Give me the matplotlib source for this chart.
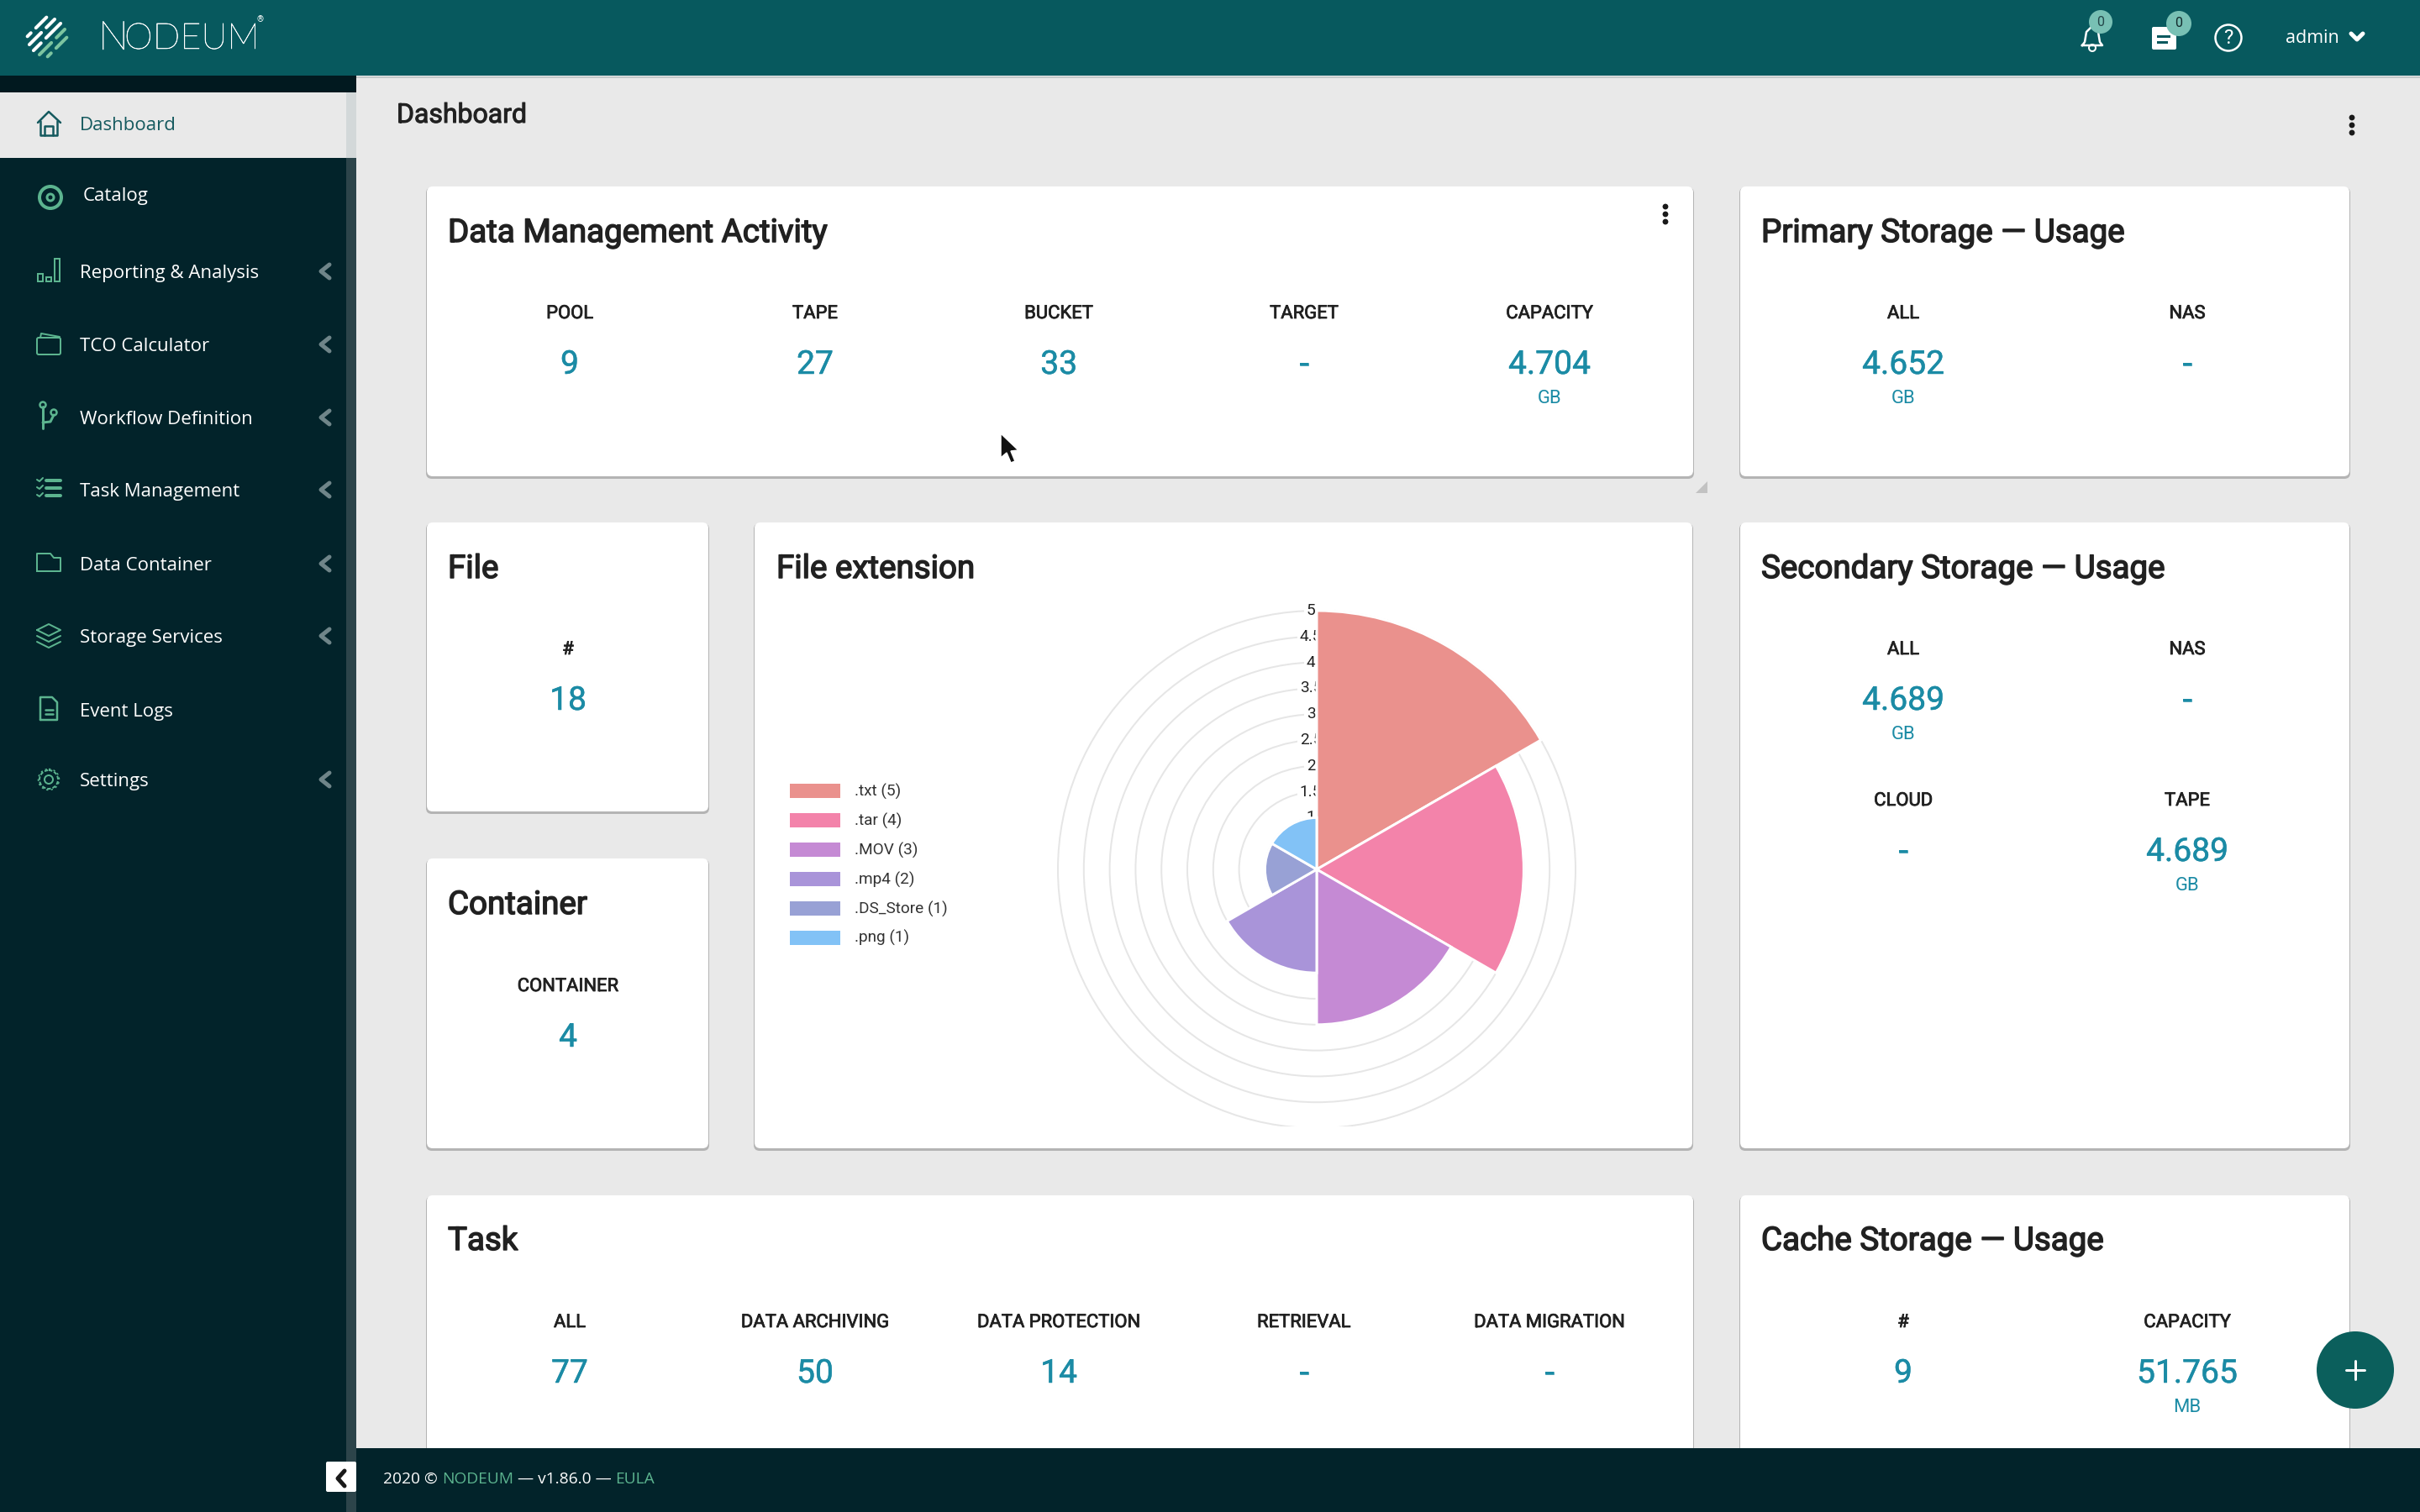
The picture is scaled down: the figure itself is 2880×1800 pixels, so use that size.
import numpy as np
import matplotlib
matplotlib.use("Agg")
import matplotlib.pyplot as plt
import matplotlib.patheffects as pe
from matplotlib.patches import Rectangle, FancyBboxPatch, Circle, Polygon

# file extension chart
ext_names = [".txt", ".tar", ".MOV", ".mp4", ".DS_Store", ".png"]
ext_counts = [5, 4, 3, 2, 1, 1]
ext_colors = ["#EA918D", "#F383AA", "#C58AD4", "#A994D9", "#98A1D5", "#82C2F6"]
ring_ticks = [0.5, 1, 1.5, 2, 2.5, 3, 3.5, 4, 4.5, 5]
ring_labels = ["0.5", "1", "1.5", "2", "2.5", "3", "3.5", "4", "4.5", "5"]

# cards
activity_labels = ["POOL", "TAPE", "BUCKET", "TARGET", "CAPACITY"]
activity_values = ["9", "27", "33", "-", "4.704"]
activity_units = ["", "", "", "", "GB"]
primary_labels = ["ALL", "NAS"]
primary_values = ["4.652", "-"]
primary_units = ["GB", ""]
secondary_labels = ["ALL", "NAS", "CLOUD", "TAPE"]
secondary_values = ["4.689", "-", "-", "4.689"]
secondary_units = ["GB", "", "", "GB"]
task_labels = ["ALL", "DATA ARCHIVING", "DATA PROTECTION", "RETRIEVAL", "DATA MIGRATION"]
task_values = ["77", "50", "14", "-", "-"]
cache_labels = ["#", "CAPACITY"]
cache_values = ["9", "51.765"]
cache_units = ["", "MB"]

menu_items = ["Dashboard", "Catalog", "Reporting & Analysis", "TCO Calculator", "Workflow Definition",
              "Task Management", "Data Container", "Storage Services", "Event Logs", "Settings"]
menu_arrows = [False, False, True, True, True, True, True, True, False, True]

W, H = 2880, 1800
DARK = "#02232A"
TEAL = "#07595E"
GREEN = "#5CB48F"
VALUE = "#1B8BA5"
INK = "#212121"


def fs(px):
    return px * 72 / 200


def lw(px):
    return px * 72 / 200


fig = plt.figure(figsize=(14.4, 9), dpi=200, facecolor="#E9E9E9")
ui = fig.add_axes([0, 0, 1, 1])
ui.set_xlim(0, W)
ui.set_ylim(H, 0)
ui.axis("off")


def txt(x, y, s, size, color=INK, ha="left", family="Roboto", weight="normal", z=5, stroke=0):
    t = ui.text(x, y + 2.5, s, fontsize=fs(size), color=color, ha=ha, va="center", family=family, weight=weight, zorder=z)
    if stroke:
        t.set_path_effects([pe.withStroke(linewidth=lw(stroke), foreground=color)])
    return t


def line(xs, ys, color=GREEN, width=3, z=5):
    ui.plot(xs, ys, color=color, lw=lw(width), solid_capstyle="round", solid_joinstyle="round", zorder=z)


def card(x0, y0, x1, y1):
    ui.add_patch(FancyBboxPatch((x0 - 1, y0 + 1), x1 - x0 + 2, y1 - y0 + 2, boxstyle="round,pad=0,rounding_size=7",
                                fc="#B4B4B4", ec="none", zorder=1))
    ui.add_patch(FancyBboxPatch((x0, y0), x1 - x0, y1 - y0, boxstyle="round,pad=0,rounding_size=7",
                                fc="white", ec="none", zorder=2))


def stats(xs, y, labels, values, units=None):
    for i, x in enumerate(xs):
        txt(x, y, labels[i], 22, ha="center", stroke=0.8)
        txt(x, y + 61, values[i], 39, color=VALUE, ha="center", stroke=0.5)
        if units and units[i]:
            txt(x, y + 101, units[i], 22, color=VALUE, ha="center")


def dots(x, y):
    for dy in (-9, 0, 9):
        ui.add_patch(Circle((x, y + dy), 3.4, fc="#1A1A1A", ec="none", zorder=5))


def chevron(x, y, color="#6F8589"):
    line([x + 5, x - 5, x + 5], [y - 8, y, y + 8], color=color, width=5, z=6)


# page frame
ui.add_patch(Rectangle((0, 90), 424, 1710, fc=DARK, ec="none", zorder=3))
ui.add_patch(Rectangle((0, 90), 424, 20, fc="#01191F", ec="none", zorder=3))
ui.add_patch(Rectangle((412, 110), 12, 1690, fc="#2C444A", ec="none", zorder=3.1))
ui.add_patch(Rectangle((0, 110), 412, 78, fc="#E9E9E9", ec="none", zorder=3.2))
ui.add_patch(Rectangle((412, 110), 12, 78, fc="#D3D8D9", ec="none", zorder=3.2))
ui.add_patch(Rectangle((0, 91), W, 2, fc="#C4C8C8", ec="none", zorder=2.5))
ui.add_patch(Rectangle((0, 0), W, 90, fc=TEAL, ec="none", zorder=3))
ui.add_patch(Rectangle((424, 1724), W - 424, 76, fc=DARK, ec="none", zorder=6))

# logo: round block of diagonal dashes
R = 24
for k in range(-3, 4):
    off = k * 8.5
    half = np.sqrt(R ** 2 - off ** 2) * 0.95
    col = "white" if k < 1 else "#7CC4A0"
    cx, cy = 56 + off * 0.707, 44 + off * 0.707
    d = 0.707
    gap = 3 if k % 2 else -6
    line([cx - half * d, cx + gap * d - 3], [cy + half * d, cy - gap * d + 3], color=col, width=4)
    line([cx + gap * d + 3, cx + half * d], [cy - gap * d - 3, cy - half * d], color=col, width=4)
txt(117, 44, "N", 48, color="white", family="Lato", weight="light", stroke=0.6)
txt(148, 44, "ODEUM", 43, color="white", family="Lato", weight="light", stroke=0.6)
txt(306, 21, "®", 10, color="white")

# header icons
bell_x = [2478, 2481, 2483, 2490, 2497, 2499, 2502]
bell_y = [54, 50, 38, 31, 38, 50, 54]
ui.plot(bell_x + [2478], bell_y + [54], color="white", lw=lw(2.5), zorder=5)
ui.add_patch(Circle((2490, 57), 4, fc="none", ec="white", lw=lw(2), zorder=5))
ui.add_patch(Circle((2500, 26), 14, fc="#78C0B4", ec="none", zorder=6))
txt(2500, 24, "0", 16, color="#24474A", ha="center", z=7)
ui.add_patch(FancyBboxPatch((2561, 32), 29, 27, boxstyle="round,pad=0,rounding_size=2", fc="white", ec="none", zorder=5))
ui.add_patch(Rectangle((2567, 42), 16, 3, fc=TEAL, ec="none", zorder=5.5))
ui.add_patch(Rectangle((2567, 49), 13, 3, fc=TEAL, ec="none", zorder=5.5))
ui.add_patch(Circle((2593, 28), 15, fc="#78C0B4", ec="none", zorder=6))
txt(2593, 25, "0", 16, color="#12292B", ha="center", z=7)
ui.add_patch(Circle((2652, 45), 15.5, fc="none", ec="white", lw=lw(2.5), zorder=5))
txt(2652, 43, "?", 24, color="white", ha="center")
txt(2720, 43, "admin", 21.5, color="white", family="Open Sans")
line([2798, 2805, 2812], [40, 47, 40], color="white", width=5)

# sidebar
menu_ys = [147, 231, 323, 410, 497, 583, 671, 757, 845, 928]
for i, name in enumerate(menu_items):
    y = menu_ys[i]
    active = i == 0
    x = 99 if name == "Catalog" else 95
    txt(x, y, name, 22.3, color="#14595E" if active else "white", family="Open Sans", z=5)
    if menu_arrows[i]:
        chevron(387, y)

g = "#14595E"
# house
line([45, 58, 72], [146, 133, 146], color=g, width=2.5)
line([48, 48, 68, 68], [144, 161, 161, 144], color=g, width=2.5)
line([53, 53, 63, 63], [161, 150, 150, 161], color=g, width=2.5)
# target
ui.add_patch(Circle((60, 235), 13, fc="none", ec=GREEN, lw=lw(4), zorder=5))
ui.add_patch(Circle((60, 235), 4, fc="none", ec=GREEN, lw=lw(3), zorder=5))
# bars
for bx, by in ((45, 326), (55, 330), (65, 308)):
    ui.add_patch(Rectangle((bx, by), 6, 335 - by, fc="none", ec=GREEN, lw=lw(2), zorder=5))
# wallet
ui.add_patch(FancyBboxPatch((44, 402), 28, 20, boxstyle="round,pad=0,rounding_size=2", fc="none", ec=GREEN, lw=lw(2), zorder=5))
line([48, 49, 71], [402, 397, 401], width=2)
# workflow
line([51, 51], [484, 510], width=3)
line([51, 60, 64], [503, 502, 494], width=3)
ui.add_patch(Circle((51, 482), 3.5, fc="none", ec=GREEN, lw=lw(2.5), zorder=5))
ui.add_patch(Circle((64, 491), 3.5, fc="none", ec=GREEN, lw=lw(2.5), zorder=5))
# checklist
for ty in (572, 581, 590):
    line([55, 72], [ty, ty], width=4)
    line([44, 47, 51], [ty - 1, ty + 1, ty - 3], width=2)
# folder
line([44, 44, 60, 64, 72, 72, 44], [680, 659, 659, 664, 664, 680, 680], width=2)
# layers
line([44, 58, 72, 58, 44], [750, 743, 750, 757, 750], width=2)
line([44, 58, 72], [757, 764, 757], width=2)
line([44, 58, 72], [764, 771, 764], width=2)
# doc
line([48, 48, 62, 68, 68, 48], [857, 830, 830, 836, 857, 857], width=2.5)
line([54, 63], [845, 845], width=2.5)
line([54, 63], [850, 850], width=2.5)
# gear
ui.add_patch(Circle((58, 928), 5, fc="none", ec=GREEN, lw=lw(2), zorder=5))
ui.add_patch(Circle((58, 928), 11, fc="none", ec=GREEN, lw=lw(2), ls=(0, (2.2, 1)), zorder=5))
ui.add_patch(Circle((58, 928), 12.5, fc="none", ec=GREEN, lw=lw(1.5), ls=(0, (1.6, 2.2)), zorder=5))

# footer
ui.add_patch(FancyBboxPatch((388, 1740), 36, 36, boxstyle="round,pad=0,rounding_size=2", fc="white", ec="none", zorder=7))
line([410, 402, 410], [1751, 1760, 1769], color="#1A1A1A", width=5, z=8)
fx = 456
for piece, col in (("2020 © ", "white"), ("NODEUM", GREEN), (" — v1.86.0 — ", "white"), ("EULA", GREEN)):
    t = txt(fx, 1758, piece, 19.2, color=col, family="Open Sans", z=8)
    fx += t.get_window_extent(fig.canvas.get_renderer()).width

# heading
txt(472, 135, "Dashboard", 32, stroke=1)
dots(2799, 149)

# cards
card(508, 222, 2015, 567)
card(2071, 222, 2796, 567)
card(508, 622, 843, 966)
card(508, 1022, 843, 1367)
card(898, 622, 2014, 1367)
card(2071, 622, 2796, 1367)
card(508, 1423, 2015, 1800)
card(2071, 1423, 2796, 1800)

title_size = 38.5
title_stroke = 1.5
for tx, ty, title in ((533, 275, "Data Management Activity"), (2096, 275, "Primary Storage — Usage"),
                      (533, 675, "File"), (533, 1075, "Container"), (924, 675, "File extension"),
                      (2096, 675, "Secondary Storage — Usage"), (533, 1475, "Task"),
                      (2096, 1475, "Cache Storage — Usage")):
    txt(tx, ty, title, title_size, stroke=title_stroke)

five_cols = [678, 970, 1260, 1552, 1844]
two_cols = [2265, 2603]
stats(five_cols, 371, activity_labels, activity_values, activity_units)
stats(two_cols, 371, primary_labels, primary_values, primary_units)
stats([676], 771, ["#"], ["18"])
stats([676], 1172, ["CONTAINER"], ["4"])
stats(two_cols, 771, secondary_labels[:2], secondary_values[:2], secondary_units[:2])
stats(two_cols, 951, secondary_labels[2:], secondary_values[2:], secondary_units[2:])
stats(five_cols, 1572, task_labels, task_values)
stats(two_cols, 1572, cache_labels, cache_values, cache_units)
dots(1982, 255)

# resize handle, mouse pointer, add button
ui.add_patch(Polygon([[2032, 573], [2032, 587], [2018, 587]], fc="#C2C2C2", ec="none", zorder=2))
ui.add_patch(Polygon([[1191, 516], [1191, 545], [1198, 539], [1203, 551], [1208, 549], [1203, 537], [1212, 536]],
                     fc="#111111", ec="white", lw=lw(1.5), zorder=8))
ui.add_patch(Circle((2803, 1631), 46, fc="#0B5F5C", ec="none", zorder=9))
line([2792, 2814], [1631, 1631], color="white", width=3, z=10)
line([2803, 2803], [1620, 1642], color="white", width=3, z=10)

# polar area chart, centre (1567, 1035), radius 308 for the value 5
unit = 308 / 5
rmax = 5.03
rad = rmax * unit
ax = fig.add_axes([(1567 - rad) / W, 1 - (1035 + rad) / H, 2 * rad / W, 2 * rad / H], projection="polar", zorder=2)
ax.set_facecolor("none")
ax.set_theta_zero_location("N")
ax.set_theta_direction(-1)
ax.set_ylim(0, rmax)
ax.set_axisbelow(True)
ax.spines["polar"].set_visible(False)
ax.set_xticks([])
ax.set_yticks(ring_ticks)
ax.set_yticklabels([])
ax.yaxis.grid(True, color="#E6E6E6", lw=lw(2))
ax.xaxis.grid(False)

step = 2 * np.pi / len(ext_counts)
theta = np.arange(len(ext_counts)) * step + step / 2
bars = ax.bar(theta, ext_counts, width=step, color=ext_colors, edgecolor="white", linewidth=lw(3), zorder=3)
for b, name, count in zip(bars, ext_names, ext_counts):
    b.set_label(f"{name} ({count})")

for r, lab in zip(ring_ticks, ring_labels):
    if r < 1:
        continue
    ax.annotate(lab, xy=(0, r), xytext=(-7, 0), textcoords="offset pixels", ha="center", va="center",
                fontsize=fs(19), family="Roboto", color=INK, zorder=1, annotation_clip=False,
                bbox=dict(fc="white", ec="none", pad=1))

ax.legend(loc="upper left", bbox_to_anchor=(938 / W, 1 - 931 / H), bbox_transform=fig.transFigure, frameon=False,
          prop={"family": "Roboto", "size": fs(19)}, labelcolor="#333333", borderpad=0, borderaxespad=0,
          handlelength=3.3, handleheight=1.25, handletextpad=0.84, labelspacing=0.75)

# chart canvas ends just above the bottom of the last ring
fig.add_artist(Rectangle((1300, 1341), 540, 10, fc="white", ec="none", transform=ui.transData, zorder=3))

fig.savefig("out.png", dpi=200, facecolor=fig.get_facecolor())
